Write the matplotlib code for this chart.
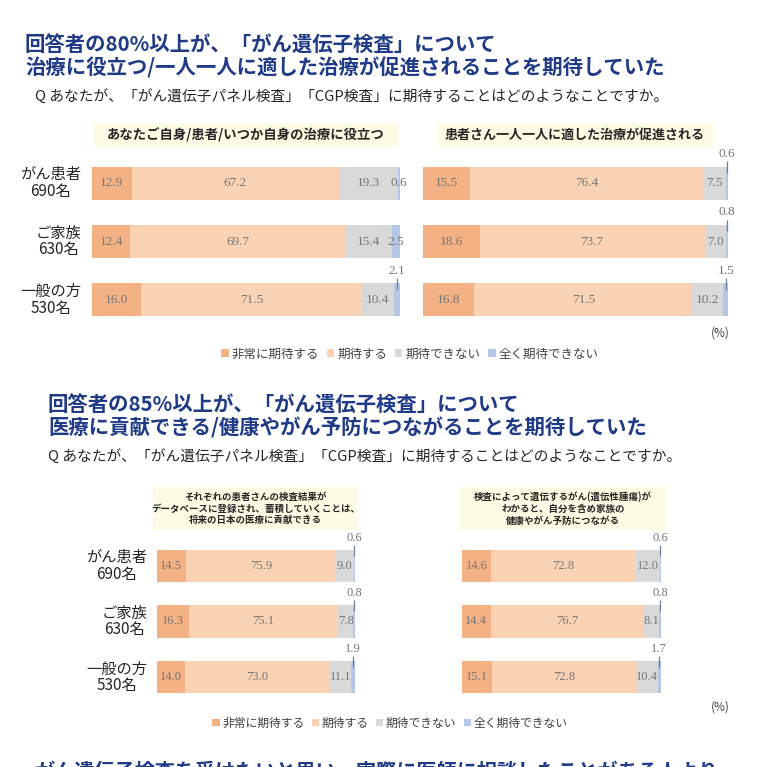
import matplotlib
matplotlib.use("Agg")
import matplotlib.pyplot as plt
from matplotlib.patches import Patch, Rectangle

plt.rcParams["font.family"] = ["Noto Sans CJK JP", "DejaVu Sans"]

W, H = 767, 767

# ---- data ----
GROUPS = ["がん患者\n690名", "ご家族\n630名", "一般の方\n530名"]
CATS = ["非常に期待する", "期待する", "期待できない", "全く期待できない"]

P1_TITLE = "あなたご自身/患者/いつか自身の治療に役立つ"
P1_VERY = [12.9, 12.4, 16.0]
P1_EXPECT = [67.2, 69.7, 71.5]
P1_CANNOT = [19.3, 15.4, 10.4]
P1_NEVER = [0.6, 2.5, 2.1]
P1_CALLOUT = [False, False, True]

P2_TITLE = "患者さん一人一人に適した治療が促進される"
P2_VERY = [15.5, 18.6, 16.8]
P2_EXPECT = [76.4, 73.7, 71.5]
P2_CANNOT = [7.5, 7.0, 10.2]
P2_NEVER = [0.6, 0.8, 1.5]
P2_CALLOUT = [True, True, True]

P3_TITLE = "それぞれの患者さんの検査結果が\nデータベースに登録され、蓄積していくことは、\n将来の日本の医療に貢献できる"
P3_VERY = [14.5, 16.3, 14.0]
P3_EXPECT = [75.9, 75.1, 73.0]
P3_CANNOT = [9.0, 7.8, 11.1]
P3_NEVER = [0.6, 0.8, 1.9]
P3_CALLOUT = [True, True, True]

P4_TITLE = "検査によって遺伝するがん(遺伝性腫瘍)が\nわかると、自分を含め家族の\n健康やがん予防につながる"
P4_VERY = [14.6, 14.4, 15.1]
P4_EXPECT = [72.8, 76.7, 72.8]
P4_CANNOT = [12.0, 8.1, 10.4]
P4_NEVER = [0.6, 0.8, 1.7]
P4_CALLOUT = [True, True, True]

COLORS = ["#F4B183", "#FAD3B5", "#D9D9D9", "#B4C7E7"]
NAVY = "#1F3A86"
LABEL_GRAY = "#767676"
HEAD_BG = "#FCFBE3"


def px_axes(fig, x0, y0, x1, y1):
    return fig.add_axes([x0 / W, 1 - y1 / H, (x1 - x0) / W, (y1 - y0) / H])


def ftext(fig, x, y, s, **kw):
    return fig.text(x / W, 1 - y / H, s, **kw)


def draw_panel(ax, series, callout, bar_h, lab_size, show_groups, group_size, group_pad):
    ax.set_xlim(0, 100)
    ax.set_ylim(2.5, -0.5)
    ax.axis("off")
    rows = range(len(GROUPS))
    left = [0.0] * len(GROUPS)
    for ci, vals in enumerate(series):
        ax.barh(list(rows), vals, left=left, height=bar_h, color=COLORS[ci], edgecolor="none")
        for i in rows:
            cx = left[i] + vals[i] / 2
            if ci == 3 and callout[i]:
                top = i - bar_h / 2
                ax.plot([cx, cx], [top + 0.11, top - 0.09], color="#6F8098", lw=0.9,
                        clip_on=False, solid_capstyle="butt")
                ax.text(cx, top - 0.11, f"{vals[i]:.1f}", ha="center", va="bottom",
                        fontsize=lab_size, color=LABEL_GRAY, family="Liberation Serif")
            else:
                ax.text(cx, i, f"{vals[i]:.1f}", ha="center", va="center",
                        fontsize=lab_size, color=LABEL_GRAY, family="Liberation Serif")
        left = [l + v for l, v in zip(left, vals)]
    if show_groups:
        for i, g in enumerate(GROUPS):
            ax.text(-group_pad, i, g, ha="right", va="center", multialignment="center",
                    fontsize=group_size, color="#262626", linespacing=0.95, clip_on=False)


def header_box(fig, x0, y0, x1, y1, text, size):
    fig.patches.append(Rectangle((x0 / W, 1 - y1 / H), (x1 - x0) / W, (y1 - y0) / H,
                                 transform=fig.transFigure, facecolor=HEAD_BG,
                                 edgecolor="none", zorder=0))
    ftext(fig, (x0 + x1) / 2, (y0 + y1) / 2, text, ha="center", va="center",
          fontsize=size, fontweight="bold", color="#262626", linespacing=1.2)


def legend(fig, cx, cy, size):
    handles = [Patch(facecolor=c, edgecolor="none") for c in COLORS]
    fig.legend(handles, CATS, loc="center", bbox_to_anchor=(cx / W, 1 - cy / H),
               ncol=4, frameon=False, fontsize=size, handlelength=0.6, handleheight=0.6,
               handletextpad=0.25, columnspacing=0.6, labelcolor="#404040")


fig = plt.figure(figsize=(W / 100, H / 100), dpi=100)
fig.patch.set_facecolor("white")

# ---- section 1 ----
ftext(fig, 25, 45, "回答者の80%以上が、「がん遺伝子検査」について", fontsize=14.7,
      fontweight="bold", color=NAVY, va="center")
ftext(fig, 25, 68, "治療に役立つ/一人一人に適した治療が促進されることを期待していた", fontsize=14.7,
      fontweight="bold", color=NAVY, va="center")
ftext(fig, 35, 97, "Q あなたが、「がん遺伝子パネル検査」「CGP検査」に期待することはどのようなことですか。",
      fontsize=10.6, color="#262626", va="center")

header_box(fig, 93, 123, 398, 147, P1_TITLE, 9.6)
header_box(fig, 437, 123, 713, 147, P2_TITLE, 9.4)

ax1 = px_axes(fig, 92, 154, 400, 329)
draw_panel(ax1, [P1_VERY, P1_EXPECT, P1_CANNOT, P1_NEVER], P1_CALLOUT, 0.57, 9.5, True, 11, 3.5)
ax2 = px_axes(fig, 423, 154, 728, 329)
draw_panel(ax2, [P2_VERY, P2_EXPECT, P2_CANNOT, P2_NEVER], P2_CALLOUT, 0.57, 9.5, False, 11, 3.5)

ftext(fig, 720, 333, "(%)", ha="center", va="center", fontsize=8.5, color="#404040")
legend(fig, 410, 354, 9)

# ---- section 2 ----
ftext(fig, 48, 405, "回答者の85%以上が、「がん遺伝子検査」について", fontsize=14.7,
      fontweight="bold", color=NAVY, va="center")
ftext(fig, 48, 428, "医療に貢献できる/健康やがん予防につながることを期待していた", fontsize=14.7,
      fontweight="bold", color=NAVY, va="center")
ftext(fig, 48, 457, "Q あなたが、「がん遺伝子パネル検査」「CGP検査」に期待することはどのようなことですか。",
      fontsize=10.6, color="#262626", va="center")

header_box(fig, 153, 487, 358, 530, P3_TITLE, 6.8)
header_box(fig, 459, 487, 667, 530, P4_TITLE, 6.8)

ax3 = px_axes(fig, 157, 538, 355, 705)
draw_panel(ax3, [P3_VERY, P3_EXPECT, P3_CANNOT, P3_NEVER], P3_CALLOUT, 0.58, 9, True, 11, 5)
ax4 = px_axes(fig, 462, 538, 661, 705)
draw_panel(ax4, [P4_VERY, P4_EXPECT, P4_CANNOT, P4_NEVER], P4_CALLOUT, 0.58, 9, False, 11, 5)

ftext(fig, 720, 707, "(%)", ha="center", va="center", fontsize=8.5, color="#404040")
legend(fig, 390, 723, 8.5)

# next section title, cut off by the page edge
ftext(fig, 35, 771, "がん遺伝子検査を受けたいと思い、実際に医師に相談したことがある人より",
      fontsize=14.5, fontweight="bold", color=NAVY, va="center")

fig.savefig("out.png", dpi=100, facecolor="white")
